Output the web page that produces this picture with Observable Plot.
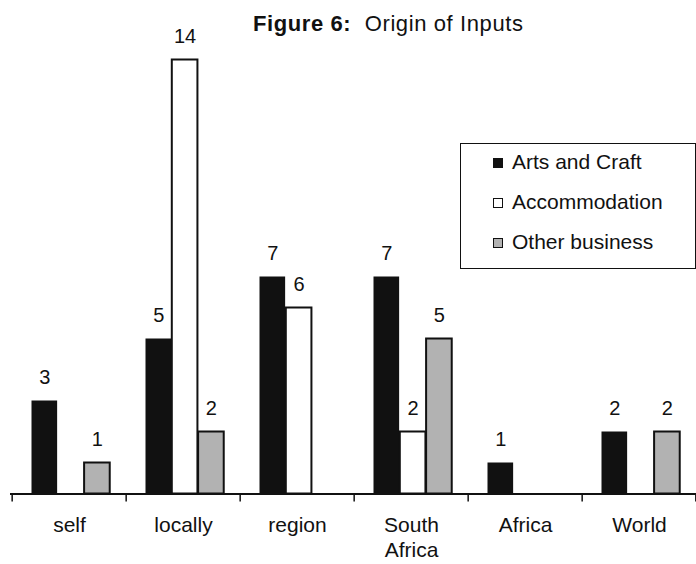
<!DOCTYPE html>
<html>
<head>
<meta charset="utf-8">
<script src="https://cdn.jsdelivr.net/npm/d3@7"></script>
<script src="https://cdn.jsdelivr.net/npm/@observablehq/plot@0.6"></script>
<style>
  html, body { margin: 0; padding: 0; background: #fff; }
  #chart {
    position: relative; width: 696px; height: 564px; overflow: hidden;
    font-family: "Liberation Sans", Arial, sans-serif; color: #111;
  }
  #chart svg { position: absolute; left: 0; top: 0; }
  #title {
    position: absolute; left: 253px; top: 12.5px;
    font-size: 22px; line-height: 1; white-space: pre; letter-spacing: 0.6px;
  }
  #title b { font-weight: bold; }
  #legend {
    position: absolute; left: 460px; top: 143px; width: 236px; height: 126px;
    box-sizing: border-box; border: 1.5px solid #111; background: #fff;
  }
  #legend .row { position: absolute; left: 0; height: 40px; width: 100%; }
  #legend .sw {
    position: absolute; left: 32px; top: 7px; width: 10px; height: 10px;
    box-sizing: border-box; border: 1.5px solid #111;
  }
  #legend .lab {
    position: absolute; left: 51px; top: 0; font-size: 21px; line-height: 1; white-space: pre;
  }
</style>
</head>
<body>
<div id="chart">
  <div id="title"><b>Figure 6:</b>  Origin of Inputs</div>
  <div id="legend"></div>
</div>
<script>
// Where inputs come from, by type of business
const categories = ["self", "locally", "region", "South\nAfrica", "Africa", "World"];
const artsCraft     = [3, 5, 7, 7, 1, 2];
const accommodation = [0, 14, 6, 2, 0, 0];
const otherBusiness = [1, 2, 0, 5, 0, 2];
const seriesNames = ["Arts and Craft", "Accommodation", "Other business"];
const seriesFills = ["#111111", "#ffffff", "#b2b2b2"];

// Layout
const W = 696, H = 564;
const mL = 10, mR = -2, mT = 59.5, mB = 70.5;
const step = (W - mL - mR) / categories.length;
const groupPad = 19.5;   // space before the first bar in each group
const barW = 26.3;       // width of one bar
const yMax = 14;
const pxPerUnit = (H - mT - mB) / yMax;
const tickLen = 8 / pxPerUnit;

const series = [
  {name: seriesNames[0], values: artsCraft, fill: seriesFills[0], stroke: "none"},
  {name: seriesNames[1], values: accommodation, fill: seriesFills[1], stroke: "#111"},
  {name: seriesNames[2], values: otherBusiness, fill: seriesFills[2], stroke: "#111"}
];

const marks = [];
series.forEach((s, i) => {
  const rows = categories
    .map((c, j) => ({category: c, value: s.values[j]}))
    .filter(d => d.value > 0);
  const left = groupPad + barW * i;
  const right = step - groupPad - barW * (i + 1);
  marks.push(Plot.barY(rows, {
    x: "category", y: "value",
    fill: s.fill, stroke: s.stroke, strokeWidth: 2,
    insetLeft: left, insetRight: right
  }));
  marks.push(Plot.text(rows, {
    x: "category", y: "value", text: d => String(d.value),
    dx: left + barW / 2 - step / 2, dy: -17, lineAnchor: "bottom",
    fontSize: 20, fill: "#111"
  }));
});

// Category axis: baseline, boundary ticks and labels
marks.push(Plot.ruleY([0], {stroke: "#111", strokeWidth: 2}));
marks.push(Plot.ruleX(categories, {
  x: d => d, y1: 0, y2: -tickLen, dx: -step / 2, stroke: "#111", strokeWidth: 1.5
}));
marks.push(Plot.ruleX(categories.slice(-1), {
  x: d => d, y1: 0, y2: -tickLen, dx: step / 2 - 1, stroke: "#111", strokeWidth: 1.5
}));
marks.push(Plot.text(categories, {
  x: d => d, y: () => 0, text: d => d, lineAnchor: "top", dy: 21,
  fontSize: 21, lineHeight: 1.17, fill: "#111"
}));

const plot = Plot.plot({
  width: W, height: H,
  marginLeft: mL, marginRight: mR, marginTop: mT, marginBottom: mB,
  x: {domain: categories, padding: 0, axis: null},
  y: {domain: [0, yMax], axis: null},
  style: {fontFamily: "Liberation Sans, Arial, sans-serif", background: "transparent", color: "#111"},
  marks
});
const chart = document.getElementById("chart");
chart.insertBefore(plot, chart.firstChild);

// Legend box
const legend = document.getElementById("legend");
series.forEach((s, i) => {
  const row = document.createElement("div");
  row.className = "row";
  row.style.top = (6.5 + 40 * i) + "px";
  const sw = document.createElement("span");
  sw.className = "sw";
  sw.style.background = s.fill;
  const lab = document.createElement("span");
  lab.className = "lab";
  lab.textContent = s.name;
  row.appendChild(sw);
  row.appendChild(lab);
  legend.appendChild(row);
});
</script>
</body>
</html>
